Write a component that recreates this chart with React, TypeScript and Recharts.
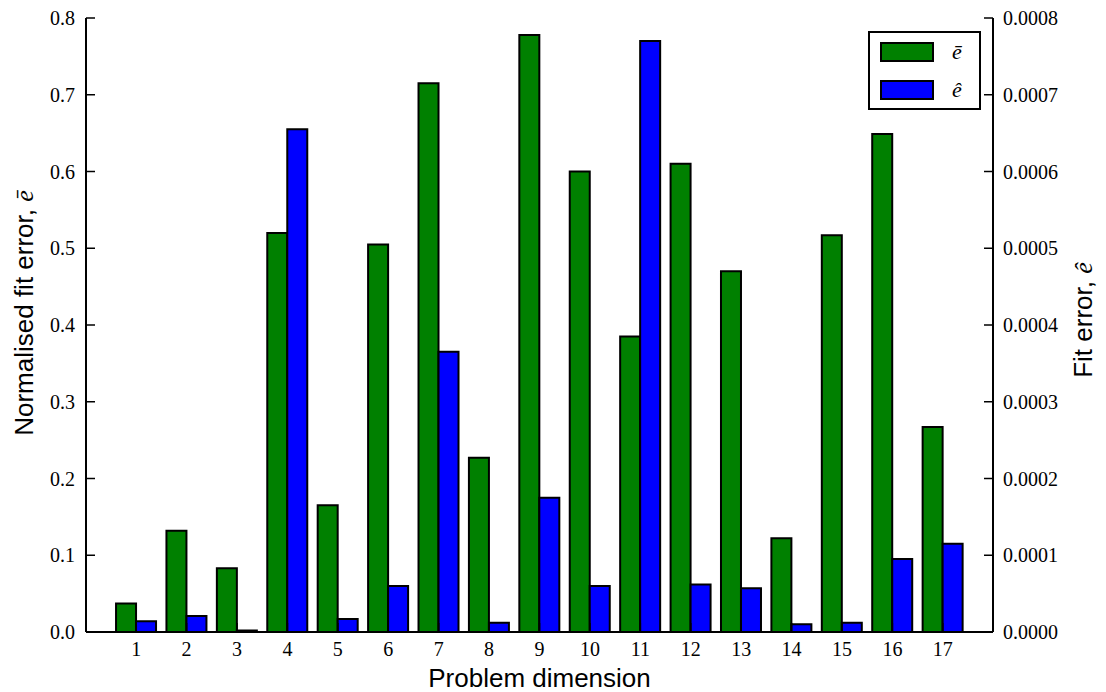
import { Bar, BarChart, Label, Legend, XAxis, YAxis } from "recharts"

const dims = ["1", "2", "3", "4", "5", "6", "7", "8", "9", "10", "11", "12", "13", "14", "15", "16", "17"]
const normErr = [0.037, 0.132, 0.083, 0.52, 0.165, 0.505, 0.715, 0.227, 0.778, 0.6, 0.385, 0.61, 0.47, 0.122, 0.517, 0.649, 0.267]
const fitErr = [
  0.000014, 0.000021, 0.000002, 0.000655, 0.000017, 0.00006, 0.000365, 0.000012, 0.000175, 0.00006, 0.00077,
  0.000062, 0.000057, 0.00001, 0.000012, 0.000095, 0.000115,
]
const leftTicks = [0, 0.1, 0.2, 0.3, 0.4, 0.5, 0.6, 0.7, 0.8]
const rightTicks = [0, 0.0001, 0.0002, 0.0003, 0.0004, 0.0005, 0.0006, 0.0007, 0.0008]

const data = dims.map((d, i) => ({ dim: d, norm: normErr[i], fit: fitErr[i] }))

const serif = "'Liberation Serif', 'Times New Roman', serif"
const sans = "'Liberation Sans', Arial, sans-serif"
const tickStyle = { fontFamily: serif, fontSize: 20, fill: "#000" }
const axisLine = { stroke: "#000", strokeWidth: 2 }
const tickLine = { stroke: "#000", strokeWidth: 1.5 }

function LegendBox() {
  const row = (color: string, sym: string) => (
    <div style={{ display: "flex", alignItems: "center", height: 20, marginBottom: 18 }}>
      <div style={{ width: 50, height: 16, background: color, border: "2px solid #000" }} />
      <span style={{ fontFamily: serif, fontStyle: "italic", fontSize: 22, marginLeft: 18, lineHeight: "20px" }}>
        {sym}
      </span>
    </div>
  )
  return (
    <div
      style={{
        width: 99,
        height: 66,
        border: "2px solid #000",
        background: "#fff",
        boxSizing: "content-box",
        padding: "9px 0 0 10px",
      }}
    >
      {row("#008000", "\u0113")}
      {row("#0000ff", "\u00ea")}
    </div>
  )
}

export default function App() {
  return (
    <div style={{ position: "absolute", left: 0, top: 0, width: 1106, height: 692, background: "#fff" }}>
      <BarChart
        width={1106}
        height={692}
        data={data}
        margin={{ top: 18, right: 0, bottom: 0, left: 0 }}
        barCategoryGap="10%"
        barGap={0}
      >
        <XAxis
          dataKey="dim"
          height={60}
          padding={{ left: 25, right: 25 }}
          axisLine={axisLine}
          tickLine={tickLine}
          tickSize={-9}
          tickMargin={19}
          tick={tickStyle}
          interval={0}
        >
          <Label
            content={() => (
              <text x={539.5} y={687} textAnchor="middle" fontFamily={sans} fontSize={26} fill="#000">
                Problem dimension
              </text>
            )}
          />
        </XAxis>
        <XAxis
          xAxisId="top"
          dataKey="dim"
          orientation="top"
          height={0}
          padding={{ left: 25, right: 25 }}
          axisLine={axisLine}
          tickLine={tickLine}
          tickSize={-9}
          tick={false}
          interval={0}
        />
        <YAxis
          yAxisId="left"
          width={86}
          domain={[0, 0.8]}
          ticks={leftTicks}
          tickFormatter={(v: number) => v.toFixed(1)}
          axisLine={axisLine}
          tickLine={tickLine}
          tickSize={-9}
          tickMargin={20}
          tick={tickStyle}
          allowDataOverflow
        >
          <Label
            content={() => (
              <text
                x={33}
                y={313}
                transform="rotate(-90 33 313)"
                textAnchor="middle"
                fontFamily={sans}
                fontSize={26}
                fill="#000"
              >
                Normalised fit error,{" "}
                <tspan fontFamily={serif} fontStyle="italic">
                  {"\u0113"}
                </tspan>
              </text>
            )}
          />
        </YAxis>
        <YAxis
          yAxisId="right"
          orientation="right"
          width={113}
          domain={[0, 0.0008]}
          ticks={rightTicks}
          tickFormatter={(v: number) => v.toFixed(4)}
          axisLine={axisLine}
          tickLine={tickLine}
          tickSize={-9}
          tickMargin={19}
          tick={tickStyle}
          allowDataOverflow
        >
          <Label
            content={() => (
              <text
                x={1092}
                y={320}
                transform="rotate(-90 1092 320)"
                textAnchor="middle"
                fontFamily={sans}
                fontSize={26}
                fill="#000"
              >
                Fit error,{" "}
                <tspan fontFamily={serif} fontStyle="italic">
                  {"\u00ea"}
                </tspan>
              </text>
            )}
          />
        </YAxis>
        <Legend
          layout="horizontal"
          verticalAlign="middle"
          align="center"
          content={() => <LegendBox />}
          wrapperStyle={{ position: "absolute", top: 31, left: 868, width: 113, height: 79 }}
        />
        <Bar
          dataKey="norm"
          yAxisId="left"
          fill="#008000"
          stroke="#000"
          strokeWidth={2}
          isAnimationActive={false}
        />
        <Bar
          dataKey="fit"
          yAxisId="right"
          fill="#0000ff"
          stroke="#000"
          strokeWidth={2}
          isAnimationActive={false}
        />
      </BarChart>
    </div>
  )
}
